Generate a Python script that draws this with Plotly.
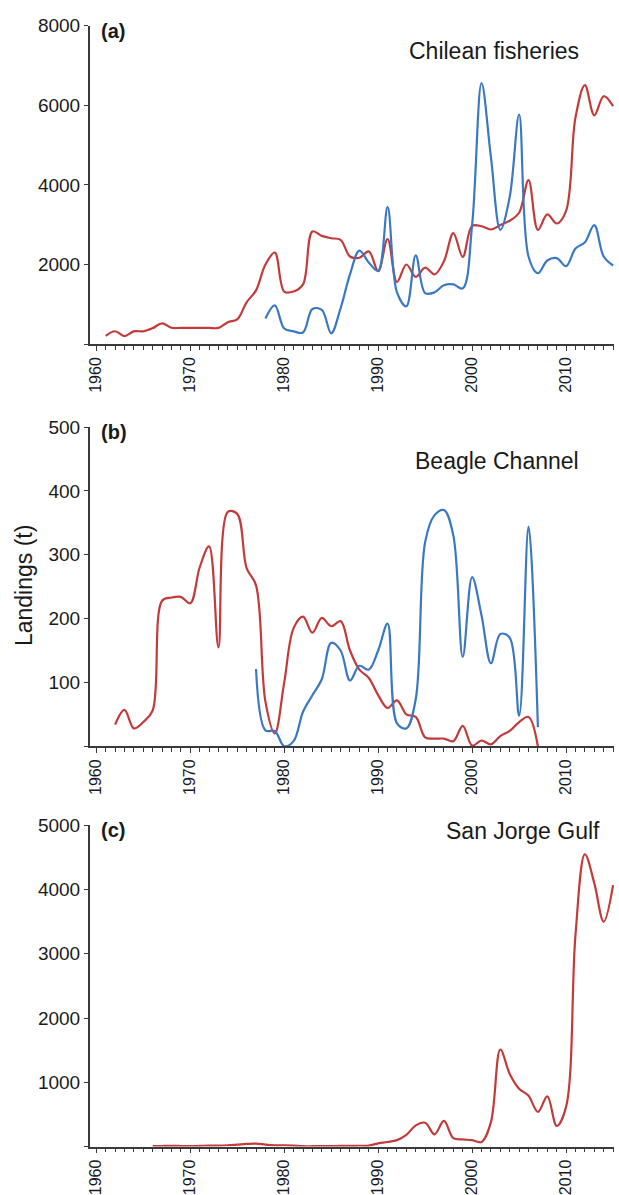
import plotly.graph_objects as go

# ---------------- data ----------------
years_a_red = list(range(1961, 2016))
landings_a_red = [207, 322, 200, 320, 320, 400, 520, 410, 405, 405, 405, 405, 405, 550, 620,
                  1050, 1350, 2000, 2300, 1320, 1320, 1500, 2830, 2720, 2660, 2620, 2200, 2170,
                  2330, 1830, 2640, 1560, 2000, 1690, 1920, 1750, 2080, 2790, 2190, 2970, 2960,
                  2880, 2990, 3100, 3300, 4120, 2870, 3260, 3030, 3350, 5700, 6510, 5750, 6230, 5980]

years_a_blue = list(range(1978, 2016))
landings_a_blue = [640, 970, 390, 320, 290, 880, 860, 270, 900, 1750, 2350, 2050, 1840, 3440,
                   1300, 950, 2230, 1280, 1300, 1480, 1500, 1400, 3000, 6560, 4700, 2870, 3700,
                   5770, 2200, 1780, 2100, 2160, 1960, 2400, 2560, 2990, 2200, 1975]

years_b_red = list(range(1962, 2008))
landings_b_red = [34, 57, 28, 38, 56, 228, 233, 234, 224, 280, 313, 155, 367, 364, 279, 252, 70,
                  20, 100, 185, 203, 178, 201, 188, 196, 150, 120, 107, 80, 60, 72, 50, 46, 14,
                  12, 12, 8, 32, 1, 9, 3, 16, 24, 38, 46, 0]

years_b_blue = list(range(1977, 2008))
landings_b_blue = [121, 25, 24, 0, 8, 54, 80, 105, 162, 150, 103, 126, 120, 150, 192, 36, 28, 74,
                   320, 362, 370, 330, 140, 265, 205, 130, 176, 170, 48, 344, 30]

years_c_red = list(range(1966, 2016))
landings_c_red = [5, 8, 10, 8, 5, 10, 15, 15, 20, 30, 40, 45, 30, 20, 20, 15, 5, 5, 5, 8, 10, 10,
                  12, 15, 50, 70, 100, 180, 330, 370, 190, 400, 130, 110, 100, 70, 380, 1510,
                  1130, 900, 790, 540, 780, 320, 620, 3300, 4550, 4100, 3500, 4070]

panel_letters = ["(a)", "(b)", "(c)"]
panel_titles = ["Chilean fisheries", "Beagle Channel", "San Jorge Gulf"]
y_ticks = [[0, 2000, 4000, 6000, 8000], [0, 100, 200, 300, 400, 500], [0, 1000, 2000, 3000, 4000, 5000]]
y_label = "Landings (t)"

RED = "#C23B3A"
BLUE = "#3B78C4"
AX = "#3a3a3a"
FONT = "Arial, Liberation Sans, sans-serif"
W, H = 619, 1195

fig = go.Figure()

def add(x, y, color, idx):
    fig.add_trace(go.Scatter(x=x, y=y, mode="lines",
                             line=dict(color=color, width=2.2, shape="spline", smoothing=1.0),
                             xaxis="x" if idx == 1 else f"x{idx}",
                             yaxis="y" if idx == 1 else f"y{idx}",
                             showlegend=False, hoverinfo="skip"))

add(years_a_red, landings_a_red, RED, 1)
add(years_a_blue, landings_a_blue, BLUE, 1)
add(years_b_red, landings_b_red, RED, 2)
add(years_b_blue, landings_b_blue, BLUE, 2)
add(years_c_red, landings_c_red, RED, 3)

# pixel layout (top, bottom) for each panel's plot area
panels = [(16, 338), (422, 745), (825, 1150)]
x_dom = [88 / W, 614 / W]

layout = dict(width=W, height=H, margin=dict(l=0, r=0, t=0, b=0),
              paper_bgcolor="white", plot_bgcolor="white",
              font=dict(family=FONT, color="#1a1a1a"))

annotations = []
for i, (top, bot) in enumerate(panels):
    n = "" if i == 0 else str(i + 1)
    ticks = y_ticks[i]
    layout["xaxis" + n] = dict(
        domain=x_dom, anchor="y" + n, range=[1959.3, 2015.1],
        tick0=1960, dtick=10, tickangle=-90,
        showline=True, linecolor=AX, linewidth=1.5,
        ticks="outside", ticklen=5, tickwidth=1.2, tickcolor=AX,
        minor=dict(dtick=1, tick0=1960, ticks="outside", ticklen=4, tickwidth=1.2, tickcolor=AX),
        showgrid=False, zeroline=False,
        tickfont=dict(size=16, family=FONT, color="#1a1a1a"))
    layout["yaxis" + n] = dict(
        domain=[1 - bot / H, 1 - top / H], anchor="x" + n,
        range=[0, ticks[-1]], tickvals=ticks,
        ticktext=[""] + [str(t) for t in ticks[1:]],
        showline=True, linecolor=AX, linewidth=1.5,
        ticks="outside", ticklen=4, tickwidth=1.2, tickcolor=AX,
        showgrid=False, zeroline=False,
        tickfont=dict(size=19, family=FONT, color="#1a1a1a"))
    annotations.append(dict(xref="paper", yref="paper", x=97 / W, y=1 - (top + 5) / H,
                            xanchor="left", yanchor="middle", showarrow=False,
                            text="<b>" + panel_letters[i] + "</b>",
                            font=dict(size=20, family=FONT, color="#1a1a1a")))

annotations.append(dict(xref="paper", yref="paper", x=581 / W, y=1 - 41 / H,
                        xanchor="right", yanchor="middle", showarrow=False,
                        text=panel_titles[0], font=dict(size=23, family=FONT, color="#1a1a1a")))
annotations.append(dict(xref="paper", yref="paper", x=581 / W, y=1 - 456 / H,
                        xanchor="right", yanchor="middle", showarrow=False,
                        text=panel_titles[1], font=dict(size=23, family=FONT, color="#1a1a1a")))
annotations.append(dict(xref="paper", yref="paper", x=602 / W, y=1 - 831 / H,
                        xanchor="right", yanchor="middle", showarrow=False,
                        text=panel_titles[2], font=dict(size=23, family=FONT, color="#1a1a1a")))
annotations.append(dict(xref="paper", yref="paper", x=22 / W, y=1 - 582 / H,
                        xanchor="center", yanchor="middle", showarrow=False, textangle=-90,
                        text=y_label, font=dict(size=23, family=FONT, color="#1a1a1a")))
layout["annotations"] = annotations

fig.update_layout(**layout)
fig.write_html("out.html", config={"displayModeBar": False})

# remove the default page margin so the figure sits at the window's top-left corner
with open("out.html", "r", encoding="utf-8") as f:
    html = f.read()
html = html.replace("<head>", "<head><style>html,body{margin:0;padding:0;overflow:hidden;}</style>", 1)
with open("out.html", "w", encoding="utf-8") as f:
    f.write(html)
